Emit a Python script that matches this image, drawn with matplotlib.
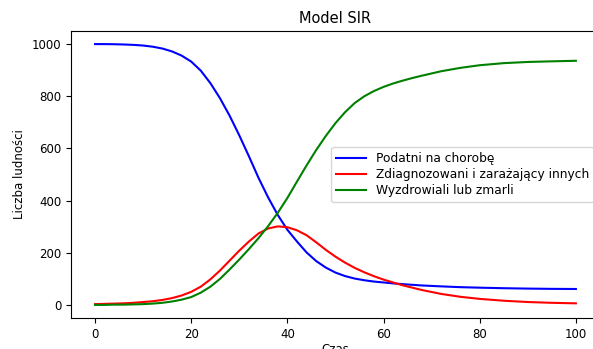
import matplotlib
matplotlib.use("Agg")
import matplotlib.pyplot as plt

# czas i odczytane wartosci modelu SIR
t = [0, 2, 4, 6, 8, 10, 12, 14, 16, 18, 20, 22, 24, 26, 28, 30, 32, 34, 36, 38,
     40, 42, 44, 46, 48, 50, 52, 54, 56, 58, 60, 62, 64, 66, 68, 72, 76, 80, 85, 90,
     95, 100]
S = [1000, 1000, 999.5, 998.5, 997, 994.5, 990, 983, 972, 956, 933, 898, 850, 792, 725,
     650, 570, 487, 412, 345, 288, 243, 201, 168, 143, 124, 110.5, 101, 94.5, 89.5, 86,
     82.5, 79.5, 77, 74.5, 71, 68, 66, 64, 62.5, 61.5, 61]
I = [3, 4, 5, 6, 8, 11, 14, 19, 26, 36, 50, 70, 98, 132, 170, 208, 243, 274, 293, 301,
     298, 286, 267, 240, 211, 185, 162, 142, 125, 110, 97, 86, 75, 66, 57, 42, 31, 23,
     16, 11, 8, 6]
R = [0, 0, 1, 1, 2, 3, 5, 8, 13, 20, 30, 47, 70, 100, 136, 174, 214, 256, 302, 353,
     410, 473, 535, 594, 648, 697, 739, 774, 800, 820, 836, 849, 860, 870, 879, 896,
     909, 919, 927, 931.5, 934, 936]

etykiety = ['Podatni na chorobę', 'Zdiagnozowani i zarażający innych', 'Wyzdrowiali lub zmarli']

fs = 8.5
fig = plt.figure(figsize=(5.93, 3.49), dpi=100)
ax = fig.add_axes([0.1197, 0.089, 0.892, 0.822])

ax.plot(t, S, 'b', label=etykiety[0])
ax.plot(t, I, 'r', label=etykiety[1])
ax.plot(t, R, 'g', label=etykiety[2])

ax.set_title('Model SIR', fontsize=10.5)
ax.set_xlabel('Czas', fontsize=fs, labelpad=2)
ax.set_ylabel('Liczba ludności', fontsize=fs)
ax.tick_params(labelsize=fs)
ax.set_xticks([0, 20, 40, 60, 80, 100])
ax.set_yticks([0, 200, 400, 600, 800, 1000])
ax.legend(loc='center right', fontsize=8.85, labelspacing=0.25, handlelength=2.4)

fig.savefig('out.png', dpi=100)
